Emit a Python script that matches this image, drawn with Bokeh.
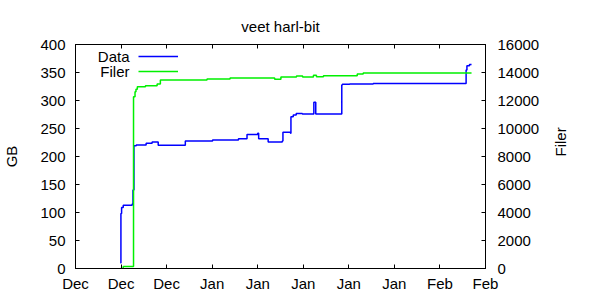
import math
import pandas as pd
from bokeh.plotting import figure
from bokeh.models import (Range1d, LinearAxis, DatetimeAxis, FixedTicker,
                          DatetimeTickFormatter, Legend, LegendItem, Label)
from bokeh.embed import file_html
from bokeh.resources import INLINE

# ---------------- data ----------------
title_text = "veet harl-bit"
y_label = "GB"
y2_label = "Filer"
series_names = ["Data", "Filer"]

data_times = [
    "2008-12-17 22:00", "2008-12-17 23:30", "2008-12-18 02:00", "2008-12-18 08:00",
    "2008-12-19 17:00", "2008-12-19 20:00", "2008-12-19 23:30", "2008-12-20 08:00",
    "2008-12-21 20:30", "2008-12-22 18:30", "2008-12-23 17:00", "2008-12-27 21:00",
    "2009-01-01 01:30", "2009-01-05 01:00", "2009-01-06 08:30", "2009-01-08 00:00",
    "2009-01-08 03:30", "2009-01-09 14:30", "2009-01-11 18:30", "2009-01-11 21:00",
    "2009-01-13 01:00", "2009-01-13 02:30", "2009-01-13 11:00", "2009-01-13 22:00",
    "2009-01-14 20:30", "2009-01-16 15:00", "2009-01-16 22:00", "2009-01-20 22:00",
    "2009-01-21 00:00", "2009-01-22 03:00", "2009-01-25 18:00", "2009-02-09 00:30",
    "2009-02-09 03:30", "2009-02-09 13:00", "2009-02-09 20:30",
]
data_gb = [
    10, 98, 109, 113,
    115, 140, 219, 220.5,
    223.5, 226, 220, 227.5,
    229.5, 231.5, 239.5, 241.5,
    231.5, 226, 227.5, 243.5,
    241.5, 271, 274, 277,
    276, 297, 276, 327.5,
    329, 329.5, 330.5, 354.5,
    362, 364.5, 364.5,
]

filer_times = [
    "2008-12-17 22:00", "2008-12-18 08:00", "2008-12-19 22:00", "2008-12-20 03:30",
    "2008-12-20 07:00", "2008-12-20 12:00", "2008-12-21 18:00", "2008-12-23 13:00",
    "2008-12-24 01:00", "2008-12-31 05:00", "2009-01-03 18:00", "2009-01-10 14:30",
    "2009-01-11 13:30", "2009-01-13 23:00", "2009-01-14 21:30", "2009-01-16 13:30",
    "2009-01-17 00:30", "2009-01-18 02:30", "2009-01-23 07:00", "2009-01-24 05:00",
    "2009-02-09 20:30",
]
filer_count = [
    0, 140, 12270, 12630,
    12800, 12985, 13060, 13180,
    13465, 13535, 13605, 13515,
    13680, 13750, 13680, 13800,
    13700, 13770, 13895, 13965,
    13965,
]

x_ticks = ["2008-12-11", "2008-12-18", "2008-12-25", "2009-01-01", "2009-01-08",
           "2009-01-15", "2009-01-22", "2009-01-29", "2009-02-05", "2009-02-12"]
gb_ticks = [0, 50, 100, 150, 200, 250, 300, 350, 400]
filer_ticks = [0, 2000, 4000, 6000, 8000, 10000, 12000, 14000, 16000]

# ---------------- plot ----------------
FONT = "Liberation Sans"
FS = "15px"
BLUE = "#0000ff"
GREEN = "#00f000"

data_x = pd.to_datetime(data_times)
filer_x = pd.to_datetime(filer_times)
tick_ms = [pd.Timestamp(t).value / 1e6 for t in x_ticks]

p = figure(width=600, height=300, x_axis_type="datetime",
           x_range=Range1d(pd.Timestamp(x_ticks[0]), pd.Timestamp(x_ticks[-1])),
           y_range=Range1d(gb_ticks[0], gb_ticks[-1]),
           output_backend="svg", toolbar_location=None,
           min_border_left=73, min_border_right=115,
           min_border_top=44, min_border_bottom=32,
           title=title_text)
p.extra_y_ranges = {"filer": Range1d(filer_ticks[0], filer_ticks[-1])}

p.background_fill_color = "white"
p.border_fill_color = "white"
p.outline_line_color = "black"
p.outline_line_width = 1
p.xgrid.visible = False
p.ygrid.visible = False

p.title.align = "center"
p.title.text_font = FONT
p.title.text_font_size = FS
p.title.text_font_style = "normal"
p.title.text_color = "black"
p.title.standoff = 20

r_data = p.step(x=data_x, y=data_gb, mode="after", line_color=BLUE, line_width=1.5)
r_filer = p.step(x=filer_x, y=filer_count, mode="after", line_color=GREEN,
                 line_width=1.5, y_range_name="filer")


def style_axis(ax, standoff):
    ax.major_tick_in = 4
    ax.major_tick_out = 0
    ax.minor_tick_in = 0
    ax.minor_tick_out = 0
    ax.major_tick_line_color = "black"
    ax.axis_line_color = "black"
    ax.major_label_text_font = FONT
    ax.major_label_text_font_size = FS
    ax.major_label_text_color = "black"
    ax.major_label_standoff = standoff
    ax.axis_label_text_font = FONT
    ax.axis_label_text_font_size = FS
    ax.axis_label_text_font_style = "normal"
    ax.axis_label_text_color = "black"


# bottom axis
xax = p.xaxis[0]
xax.ticker = FixedTicker(ticks=tick_ms)
fmt = DatetimeTickFormatter(days="%b", months="%b", hours="%b", years="%b")
xax.formatter = fmt
style_axis(xax, 6)

# left axis
yax = p.yaxis[0]
yax.ticker = FixedTicker(ticks=gb_ticks)
yax.axis_label = y_label
style_axis(yax, 10)
yax.axis_label_standoff = 17

# right axis
y2 = LinearAxis(y_range_name="filer", ticker=FixedTicker(ticks=filer_ticks),
                axis_label=y2_label)
style_axis(y2, 12)
y2.axis_label_standoff = 18
y2.axis_label_orientation = math.pi / 2
p.add_layout(y2, "right")

# top mirrored ticks
top = DatetimeAxis(ticker=FixedTicker(ticks=tick_ms), formatter=fmt)
style_axis(top, 0)
top.major_label_text_font_size = "0px"
top.major_label_text_alpha = 0
p.add_layout(top, "above")

# key: text right-aligned, sample line to its right
legend = Legend(items=[LegendItem(label=series_names[0], renderers=[r_data]),
                       LegendItem(label=series_names[1], renderers=[r_filer])],
                location=(63, 190), glyph_width=40, glyph_height=14,
                label_height=14, spacing=1, padding=0, margin=0,
                label_text_font_size="1px", label_text_alpha=0,
                label_standoff=0, label_width=1,
                border_line_alpha=0, background_fill_alpha=0)
p.add_layout(legend)

for i, name in enumerate(series_names):
    p.add_layout(Label(x=54, y=212.3 - 14.8 * i, x_units="screen", y_units="screen",
                       text=name, text_align="right", text_baseline="middle",
                       text_font=FONT, text_font_size=FS, text_color="black"))

open("out.html", "w").write(file_html(p, INLINE))
